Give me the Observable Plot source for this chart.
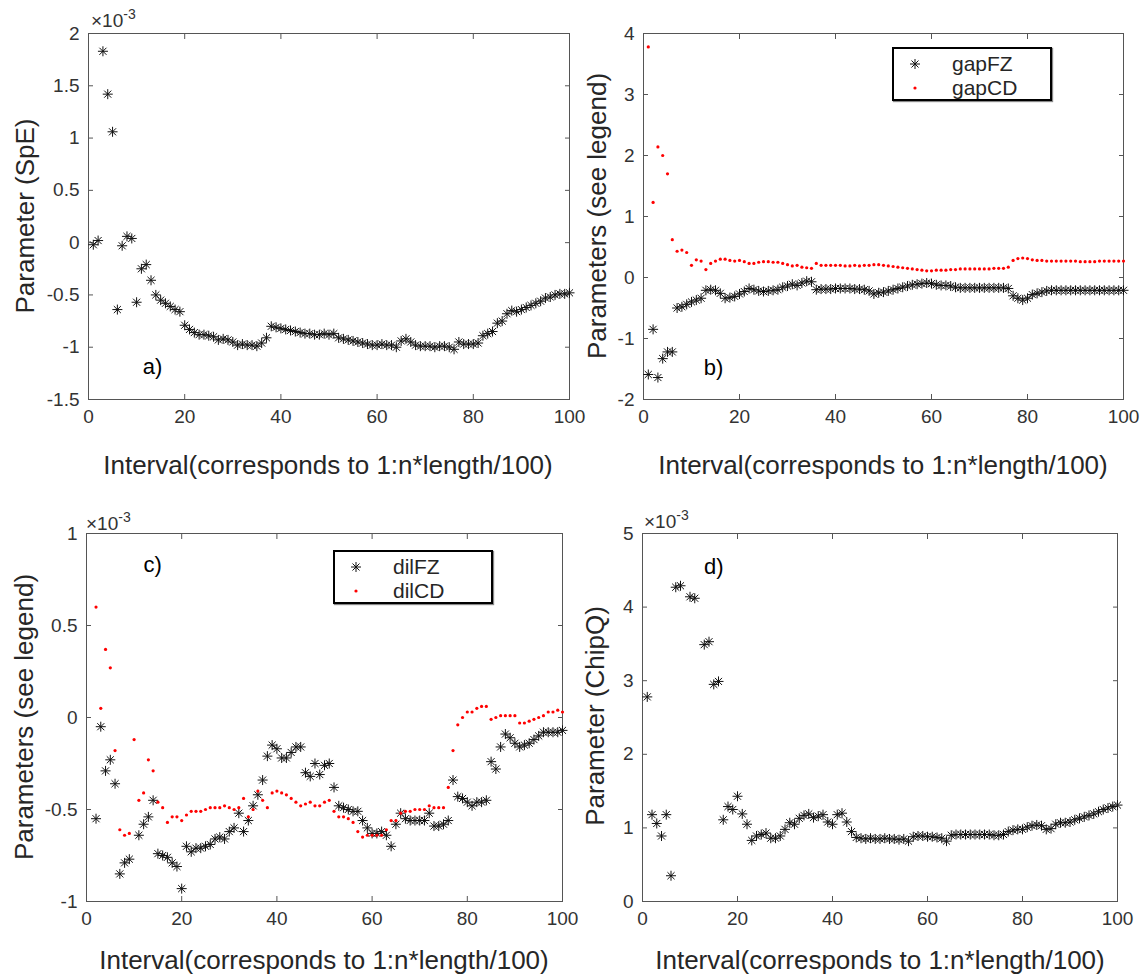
<!DOCTYPE html>
<html><head><meta charset="utf-8">
<script src="https://cdn.jsdelivr.net/npm/d3@7"></script>
<script src="https://cdn.jsdelivr.net/npm/@observablehq/plot@0.6"></script>
<style>
body{margin:0;background:#fff;font-family:"Liberation Sans",Arial,Helvetica,sans-serif;}
#root{position:relative;width:1145px;height:974px;overflow:hidden;background:#fff;}
.panel{position:absolute;}
.lab{position:absolute;color:#262626;font-size:26px;white-space:nowrap;line-height:1;}
.ylab{transform:translate(-50%,-50%) rotate(-90deg);}
.xlab{transform:translate(-50%,-50%);}
.exp{position:absolute;font-size:19px;color:#333;white-space:nowrap;line-height:1;}
.exp sup{font-size:14px;vertical-align:8px;line-height:0;}
.legend{position:absolute;border:2px solid #000;background:#fff;box-shadow:1px 1px 1px #888;box-sizing:border-box;}
.legend .row{position:absolute;left:0;right:0;height:22px;font-size:21px;color:#262626;line-height:22px;}
.legend svg{position:absolute;left:10px;top:0;}
.legend span{position:absolute;left:58px;top:0;}
</style></head><body><div id="root"></div>
<script>
// ---------- data ----------
const interval = d3.range(1, 101);
const xTicks = [0, 20, 40, 60, 80, 100];

// a) SpE  (x 10^-3)
const spe = [
 -0.02, 0.02, 1.83, 1.42, 1.06, -0.64, -0.03, 0.06, 0.04, -0.57,
 -0.25, -0.21, -0.36, -0.50, -0.55, -0.58, -0.61, -0.64, -0.66, -0.79,
 -0.83, -0.86, -0.88, -0.88, -0.89, -0.90, -0.93, -0.92, -0.93, -0.95,
 -0.98, -0.97, -0.98, -0.98, -0.99, -0.96, -0.91, -0.80, -0.81, -0.82,
 -0.83, -0.84, -0.85, -0.86, -0.87, -0.87, -0.88, -0.88, -0.87, -0.88,
 -0.87, -0.91, -0.92, -0.93, -0.94, -0.95, -0.96, -0.97, -0.98, -0.98,
 -0.97, -0.98, -0.98, -1.00, -0.94, -0.92, -0.95, -0.98, -0.99, -0.99,
 -0.99, -1.00, -0.99, -0.99, -1.00, -1.02, -0.95, -0.97, -0.97, -0.97,
 -0.96, -0.89, -0.87, -0.85, -0.77, -0.75, -0.68, -0.65, -0.66, -0.64,
 -0.62, -0.60, -0.58, -0.56, -0.53, -0.52, -0.50, -0.49, -0.49, -0.48
];
const speTicks = [-1.5, -1, -0.5, 0, 0.5, 1, 1.5, 2];

// b) gapFZ / gapCD
const gapFZ = [
 -1.59, -0.85, -1.64, -1.33, -1.22, -1.22, -0.50, -0.48, -0.44, -0.40,
 -0.37, -0.34, -0.21, -0.20, -0.21, -0.26, -0.34, -0.33, -0.31, -0.27,
 -0.23, -0.18, -0.20, -0.22, -0.23, -0.22, -0.21, -0.20, -0.16, -0.14,
 -0.11, -0.13, -0.09, -0.06, -0.07, -0.20, -0.19, -0.19, -0.19, -0.18,
 -0.18, -0.18, -0.18, -0.19, -0.19, -0.20, -0.22, -0.27, -0.25, -0.24,
 -0.22, -0.20, -0.18, -0.16, -0.14, -0.12, -0.11, -0.10, -0.09, -0.10,
 -0.12, -0.13, -0.13, -0.14, -0.16, -0.17, -0.17, -0.17, -0.17, -0.17,
 -0.17, -0.17, -0.17, -0.17, -0.17, -0.18, -0.30, -0.34, -0.37, -0.34,
 -0.28, -0.26, -0.24, -0.22, -0.21, -0.21, -0.21, -0.21, -0.21, -0.21,
 -0.21, -0.21, -0.21, -0.21, -0.21, -0.21, -0.21, -0.21, -0.21, -0.21
];
const gapCD = [
 3.78, 1.23, 2.14, 2.00, 1.70, 0.62, 0.43, 0.45, 0.41, 0.20,
 0.29, 0.27, 0.13, 0.23, 0.27, 0.30, 0.30, 0.28, 0.27, 0.28,
 0.26, 0.23, 0.23, 0.25, 0.26, 0.26, 0.25, 0.25, 0.23, 0.21,
 0.19, 0.20, 0.17, 0.16, 0.15, 0.23, 0.20, 0.20, 0.20, 0.20,
 0.20, 0.19, 0.19, 0.20, 0.19, 0.20, 0.20, 0.21, 0.21, 0.20,
 0.19, 0.18, 0.17, 0.16, 0.15, 0.14, 0.13, 0.12, 0.11, 0.11,
 0.12, 0.12, 0.12, 0.13, 0.13, 0.14, 0.14, 0.14, 0.14, 0.14,
 0.14, 0.14, 0.15, 0.15, 0.15, 0.17, 0.28, 0.31, 0.32, 0.31,
 0.29, 0.28, 0.28, 0.27, 0.27, 0.27, 0.27, 0.27, 0.27, 0.27,
 0.26, 0.26, 0.26, 0.26, 0.27, 0.27, 0.27, 0.27, 0.27, 0.27
];
const gapTicks = [-2, -1, 0, 1, 2, 3, 4];

// c) dilFZ / dilCD (x 10^-3)
const dilFZ = [
 null, -0.55, -0.05, -0.29, -0.23, -0.36, -0.85, -0.79, -0.77, null,
 -0.64, -0.58, -0.54, -0.45, -0.74, -0.75, -0.76, -0.79, -0.81, -0.93,
 -0.70, -0.73, -0.71, -0.71, -0.70, -0.69, -0.66, -0.65, -0.66, -0.62,
 -0.60, -0.52, -0.62, -0.56, -0.48, -0.42, -0.34, -0.21, -0.15, -0.17,
 -0.22, -0.22, -0.19, -0.16, -0.16, -0.30, -0.32, -0.25, -0.31, -0.26,
 -0.25, -0.38, -0.48, -0.49, -0.50, -0.51, -0.51, -0.56, -0.60, -0.63,
 -0.63, -0.62, -0.64, -0.70, -0.58, -0.52, -0.55, -0.56, -0.56, -0.56,
 -0.56, -0.52, -0.59, -0.59, -0.58, -0.56, -0.34, -0.43, -0.44, -0.46,
 -0.48, -0.46, -0.46, -0.45, -0.24, -0.28, -0.16, -0.09, -0.11, -0.14,
 -0.16, -0.15, -0.14, -0.12, -0.10, -0.08, -0.08, -0.08, -0.08, -0.07
];
const dilCD = [
 null, 0.60, 0.05, 0.37, 0.27, -0.18, -0.61, -0.64, -0.63, -0.12,
 -0.45, -0.41, -0.23, -0.29, -0.46, -0.49, -0.57, -0.54, -0.54, -0.56,
 -0.53, -0.51, -0.51, -0.51, -0.50, -0.49, -0.49, -0.49, -0.48, -0.49,
 -0.50, -0.49, -0.44, -0.54, -0.50, -0.40, -0.45, -0.49, -0.41, -0.40,
 -0.41, -0.42, -0.44, -0.46, -0.48, -0.47, -0.46, -0.48, -0.48, -0.46,
 -0.45, -0.51, -0.54, -0.54, -0.55, -0.57, -0.62, -0.65, -0.64, -0.64,
 -0.64, -0.64, -0.61, -0.56, -0.56, -0.52, -0.51, -0.51, -0.50, -0.50,
 -0.50, -0.48, -0.49, -0.49, -0.49, -0.38, -0.18, -0.04, 0.00, 0.03,
 0.03, 0.05, 0.06, 0.06, -0.01, 0.00, 0.01, 0.01, 0.01, 0.01,
 -0.03, -0.03, -0.02, -0.01, 0.00, 0.01, 0.03, 0.03, 0.04, 0.03
];
const dilTicks = [-1, -0.5, 0, 0.5, 1];

// d) ChipQ (x 10^-3)
const chipQ = [
 2.78, 1.18, 1.06, 0.89, 1.18, 0.35, 4.27, 4.29, null, 4.14,
 4.12, null, 3.49, 3.53, 2.95, 2.99, 1.11, 1.29, 1.25, 1.43,
 1.19, 1.05, 0.83, 0.89, 0.91, 0.93, 0.86, 0.86, 0.89, 0.98,
 1.07, 1.05, 1.13, 1.17, 1.19, 1.14, 1.16, 1.18, 1.08, 1.05,
 1.18, 1.20, 1.08, 0.95, 0.87, 0.86, 0.85, 0.86, 0.85, 0.85,
 0.86, 0.85, 0.85, 0.84, 0.85, 0.82, 0.88, 0.89, 0.89, 0.88,
 0.88, 0.87, 0.86, 0.82, 0.90, 0.91, 0.91, 0.91, 0.91, 0.91,
 0.91, 0.91, 0.91, 0.90, 0.90, 0.91, 0.95, 0.97, 0.98, 0.98,
 1.01, 1.03, 1.04, 1.03, 0.98, 0.99, 1.05, 1.07, 1.07, 1.08,
 1.11, 1.13, 1.15, 1.17, 1.19, 1.22, 1.25, 1.27, 1.29, 1.31
];
const chipTicks = [0, 1, 2, 3, 4, 5];

const xLabel = "Interval(corresponds to 1:n*length/100)";

// ---------- rendering ----------
const FONT = '"Liberation Sans", Arial, Helvetica, sans-serif';
const AXIS = "#555";
const root = document.getElementById("root");

// MATLAB-like '*' marker (+ and x combined)
const asterisk = {
  draw(ctx, size) {
    const r = Math.sqrt(size / Math.PI), d = r * Math.SQRT1_2;
    ctx.moveTo(-r, 0); ctx.lineTo(r, 0);
    ctx.moveTo(0, -r); ctx.lineTo(0, r);
    ctx.moveTo(-d, -d); ctx.lineTo(d, d);
    ctx.moveTo(-d, d); ctx.lineTo(d, -d);
  }
};
const starDots = (vals) => Plot.dot(interval, {x: d => d, y: (d, i) => vals[i], symbol: asterisk, r: 5, fill: "none", stroke: "#111", strokeWidth: 1});
const redDots = (vals) => Plot.dot(interval, {x: d => d, y: (d, i) => vals[i], r: 1.6, fill: "#ff0000", stroke: "none"});

function makePanel(c) {
  const fig = Plot.plot({
    width: c.width, height: c.height,
    marginLeft: c.ml, marginRight: c.mr, marginTop: c.mt, marginBottom: c.mb,
    x: {domain: [0, 100]},
    y: {domain: c.yDomain},
    style: {fontFamily: FONT, fontSize: "19px", color: "#333", background: "none", overflow: "visible"},
    marks: [
      Plot.axisX({ticks: xTicks, tickSize: -5, tickPadding: 15, tickFormat: d => String(d), label: null, fontSize: 19, stroke: AXIS}),
      Plot.axisX({anchor: "top", ticks: xTicks, tickSize: -5, tickFormat: () => "", label: null, stroke: AXIS}),
      Plot.axisY({ticks: c.yTicks, tickSize: -5, tickPadding: 14, tickFormat: d => String(d), label: null, fontSize: 19, stroke: AXIS}),
      Plot.axisY({anchor: "right", ticks: c.yTicks, tickSize: -5, tickFormat: () => "", label: null, stroke: AXIS}),
      Plot.frame({stroke: AXIS, strokeWidth: 1}),
      ...c.marks,
      Plot.text([c.letter], {x: c.lx, y: c.ly, text: d => d, fontSize: 22, fill: "#000"})
    ]
  });
  const div = document.createElement("div");
  div.className = "panel";
  div.style.left = c.left + "px";
  div.style.top = c.top + "px";
  div.appendChild(fig);
  root.appendChild(div);
}

function addLabel(text, x, y, cls) {
  const el = document.createElement("div");
  el.className = "lab " + cls;
  el.style.left = x + "px"; el.style.top = y + "px";
  el.textContent = text;
  root.appendChild(el);
}
function addExp(x, y) {
  const el = document.createElement("div");
  el.className = "exp";
  el.style.left = x + "px"; el.style.top = y + "px";
  el.innerHTML = "×10<sup>-3</sup>";
  root.appendChild(el);
}
function addLegend(x, y, names) {
  const el = document.createElement("div");
  el.className = "legend";
  el.style.left = x + "px"; el.style.top = y + "px";
  el.style.width = "160px"; el.style.height = "54px";
  const starSvg = '<svg width="22" height="22"><g stroke="#111" stroke-width="1"><path d="M6,11H16M11,6V16M7.5,7.5L14.5,14.5M7.5,14.5L14.5,7.5"/></g></svg>';
  const dotSvg = '<svg width="22" height="22"><circle cx="11" cy="11" r="1.6" fill="#ff0000"/></svg>';
  el.innerHTML = `<div class="row" style="top:4px">${starSvg}<span>${names[0]}</span></div>` +
                 `<div class="row" style="top:28px">${dotSvg}<span>${names[1]}</span></div>`;
  root.appendChild(el);
}

// a)
makePanel({left: 0, top: 0, width: 580, height: 440, ml: 88, mr: 11, mt: 33, mb: 41,
  yDomain: [-1.5, 2], yTicks: speTicks, marks: [starDots(spe)], letter: "a)", lx: 13.3, ly: -1.19});
// b)
makePanel({left: 560, top: 0, width: 585, height: 440, ml: 83, mr: 22, mt: 33, mb: 41,
  yDomain: [-2, 4], yTicks: gapTicks, marks: [starDots(gapFZ), redDots(gapCD)], letter: "b)", lx: 14.6, ly: -1.48});
// c)
makePanel({left: 0, top: 490, width: 580, height: 450, ml: 86, mr: 18, mt: 43, mb: 39,
  yDomain: [-1, 1], yTicks: dilTicks, marks: [starDots(dilFZ), redDots(dilCD)], letter: "c)", lx: 13.9, ly: 0.83});
// d)
makePanel({left: 560, top: 490, width: 585, height: 450, ml: 82, mr: 28, mt: 43, mb: 39,
  yDomain: [0, 5], yTicks: chipTicks, marks: [starDots(chipQ)], letter: "d)", lx: 15, ly: 4.55});

addLabel("Parameter (SpE)", 25, 216, "ylab");
addLabel("Parameters (see legend)", 597, 216, "ylab");
addLabel("Parameters (see legend)", 24, 717, "ylab");
addLabel("Parameter (ChipQ)", 595, 716, "ylab");
addLabel(xLabel, 328, 465, "xlab");
addLabel(xLabel, 883, 465, "xlab");
addLabel(xLabel, 324, 960, "xlab");
addLabel(xLabel, 880, 960, "xlab");

addExp(91, 11);
addExp(86, 514);
addExp(644, 512);

addLegend(892, 47, ["gapFZ", "gapCD"]);
addLegend(333, 550, ["dilFZ", "dilCD"]);
</script></body></html>
